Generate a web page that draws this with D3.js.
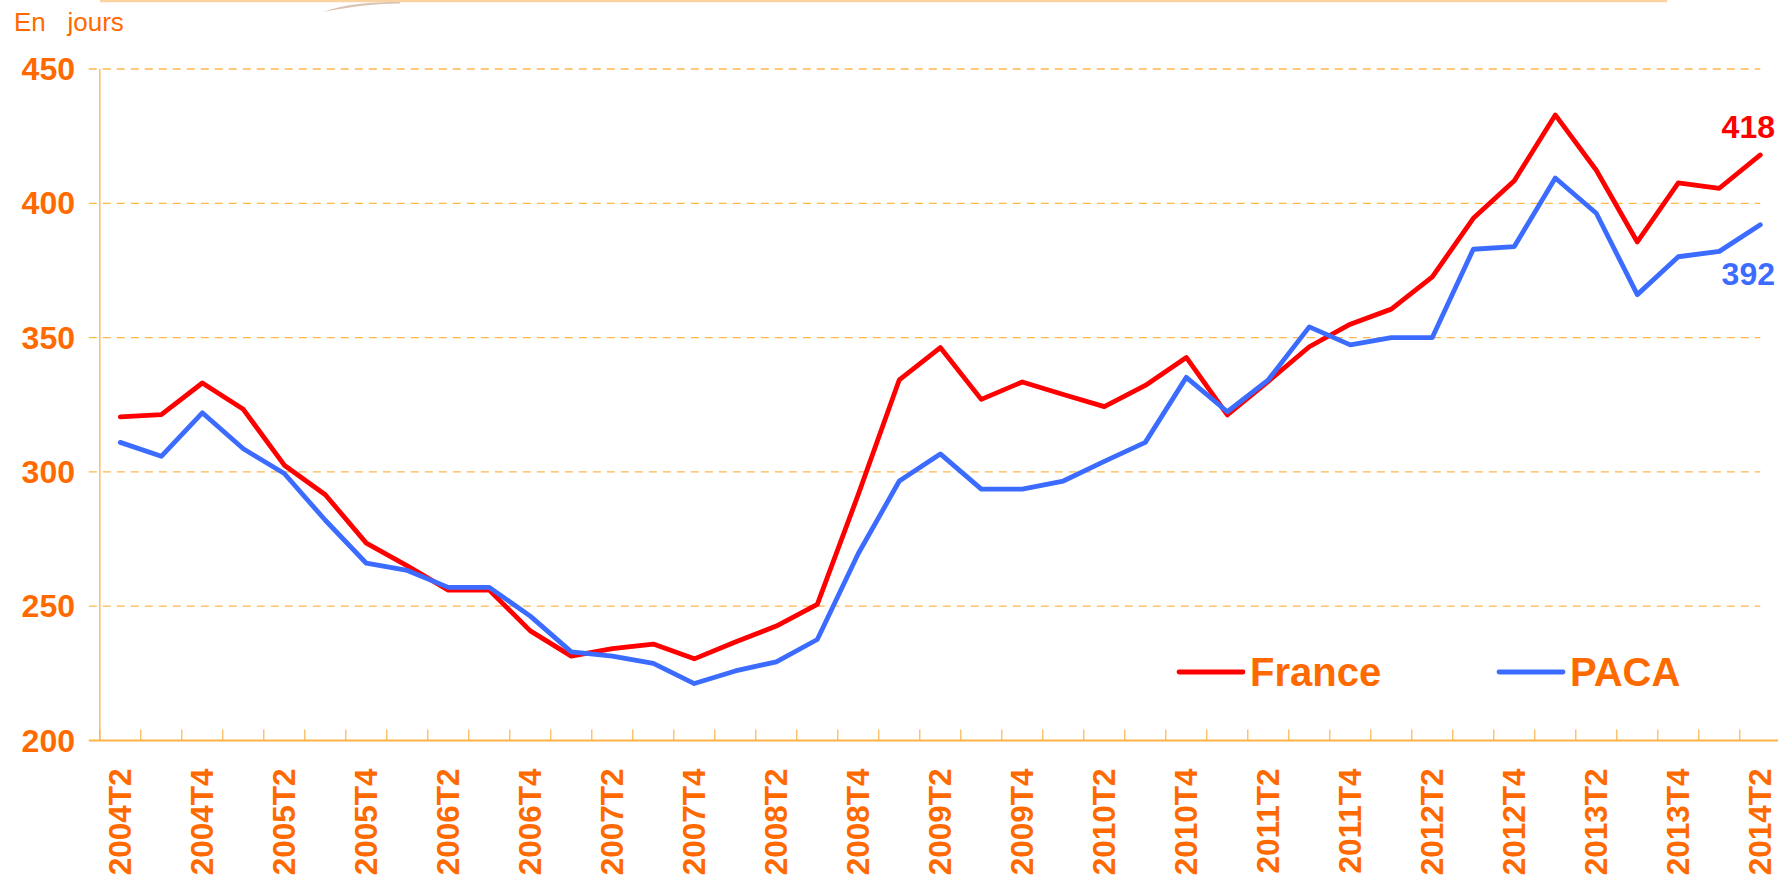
<!DOCTYPE html>
<html>
<head>
<meta charset="utf-8">
<script src="https://cdn.jsdelivr.net/npm/d3@7"></script>
<style>
  body { margin: 0; background: #fff; }
  svg { display: block; font-family: "Liberation Sans", Arial, sans-serif; }
</style>
</head>
<body>
<svg id="chart"></svg>
<script>
// quarters (2004T2 .. 2014T2)
let quarters = ["2004T2","2004T3","2004T4","2005T1","2005T2","2005T3","2005T4","2006T1","2006T2","2006T3",
  "2006T4","2007T1","2007T2","2007T3","2007T4","2008T1","2008T2","2008T3","2008T4","2009T1",
  "2009T2","2009T3","2009T4","2010T1","2010T2","2010T3","2010T4","2011T1","2011T2","2011T3",
  "2011T4","2012T1","2012T2","2012T3","2012T4","2013T1","2013T2","2013T3","2013T4","2014T1","2014T2"];

let france = [320.5, 321.3, 333.1, 323.3, 302.5, 291.5, 273.5, 265, 256, 256,
  240.8, 231.4, 234.2, 235.9, 230.4, 236.7, 242.6, 250.7, 291.6, 334.3,
  346.3, 327, 333.5, 328.8, 324.3, 332.2, 342.6, 321.2, 333.7, 346.6,
  355, 360.6, 372.6, 394.4, 408.4, 432.9, 412.3, 385.6, 407.6, 405.6, 418];

let paca = [311, 305.8, 322, 308.6, 299.4, 282, 266, 263.3, 257, 257,
  246.3, 233, 231.4, 228.7, 221.2, 225.9, 229.3, 237.6, 269.6, 296.6,
  306.7, 293.6, 293.6, 296.6, 303.9, 311, 335.2, 322.4, 334.3, 354,
  347.3, 350, 350, 382.9, 383.9, 409.4, 396.3, 366, 380.1, 382.1, 392];

let yTicks = [200, 250, 300, 350, 400, 450];

let W = 1778, H = 877;
let orange = "#ff6a00";
let axisCol = "#ffb347";

let svg = d3.select("#chart").attr("width", W).attr("height", H);

let left = 99.8, step = 41;
let x = d3.scaleBand()
    .domain(quarters)
    .range([left, left + step * quarters.length])
    .padding(0);

let y = d3.scaleLinear()
    .domain([200, 450])
    .range([740.5, 69]);

let cx = function(q) { return x(q) + x.bandwidth() / 2; };

// faint decoration at the top
svg.append("line")
    .attr("x1", 100).attr("x2", 1667)
    .attr("y1", 1).attr("y2", 1)
    .style("stroke", "#fbd3a0")
    .style("stroke-width", 2.5);
svg.append("path")
    .attr("d", "M323,12 C345,4 370,2 400,2 L400,3.5 C372,4 348,7 323,12 Z")
    .style("fill", "#d9c3b3");

// gridlines
svg.append("g")
    .selectAll("line")
    .data(yTicks.filter(function(d) { return d > 200; }))
    .join("line")
    .attr("x1", left - 11)
    .attr("x2", cx(quarters[quarters.length - 1]))
    .attr("y1", function(d) { return y(d); })
    .attr("y2", function(d) { return y(d); })
    .style("stroke", "#ffb84d")
    .style("stroke-width", 1.3)
    .style("stroke-dasharray", "8,6");

// y axis line
svg.append("line")
    .attr("x1", left).attr("x2", left)
    .attr("y1", y(450)).attr("y2", y(200))
    .style("stroke", axisCol)
    .style("stroke-width", 1.3);

// x axis line
svg.append("line")
    .attr("x1", left - 11).attr("x2", W)
    .attr("y1", y(200)).attr("y2", y(200))
    .style("stroke", axisCol)
    .style("stroke-width", 2);

// tick marks between quarters
svg.append("g")
    .selectAll("line")
    .data(quarters)
    .join("line")
    .attr("x1", function(d) { return x(d); })
    .attr("x2", function(d) { return x(d); })
    .attr("y1", y(200))
    .attr("y2", y(200) - 11)
    .style("stroke", axisCol)
    .style("stroke-width", 1.2);

// y labels
svg.append("g")
    .selectAll("text")
    .data(yTicks)
    .join("text")
    .attr("x", 75)
    .attr("y", function(d) { return y(d) + 11; })
    .attr("text-anchor", "end")
    .style("font-size", "32px")
    .style("font-weight", "bold")
    .style("fill", orange)
    .text(function(d) { return d; });

// x labels, every second quarter
svg.append("g")
    .selectAll("text")
    .data(quarters.filter(function(d, i) { return i % 2 === 0; }))
    .join("text")
    .attr("transform", function(d) { return `translate(${cx(d) + 11}, ${y(200) + 28}) rotate(-90)`; })
    .attr("text-anchor", "end")
    .style("font-size", "31.5px")
    .style("font-weight", "bold")
    .style("fill", orange)
    .text(function(d) { return d; });

// unit
svg.append("text")
    .attr("x", 14)
    .attr("y", 31)
    .style("font-size", "26px")
    .style("fill", orange)
    .style("white-space", "pre")
    .text("En   jours");

let line = d3.line()
    .x(function(d, i) { return cx(quarters[i]); })
    .y(function(d) { return y(d); });

let series = [
    {name: "France", values: france, color: "#ff0000"},
    {name: "PACA", values: paca, color: "#3c6cff"}
];

svg.append("g")
    .selectAll("path")
    .data(series)
    .join("path")
    .attr("d", function(d) { return line(d.values); })
    .style("fill", "none")
    .style("stroke", function(d) { return d.color; })
    .style("stroke-width", 4.8)
    .style("stroke-linejoin", "round")
    .style("stroke-linecap", "round");

// end values
svg.append("text")
    .attr("x", 1775)
    .attr("y", 138)
    .attr("text-anchor", "end")
    .style("font-size", "32px")
    .style("font-weight", "bold")
    .style("fill", "#ff0000")
    .text(d3.format("d")(france[france.length - 1]));
svg.append("text")
    .attr("x", 1775)
    .attr("y", 285)
    .attr("text-anchor", "end")
    .style("font-size", "32px")
    .style("font-weight", "bold")
    .style("fill", "#3c6cff")
    .text(d3.format("d")(paca[paca.length - 1]));

// legend
let legendX = [1179, 1499];
let legend = svg.append("g")
    .selectAll("g")
    .data(series)
    .join("g")
    .attr("transform", function(d, i) { return `translate(${legendX[i]}, 672)`; });

legend.append("line")
    .attr("x1", 0).attr("x2", 64)
    .attr("y1", 0).attr("y2", 0)
    .style("stroke", function(d) { return d.color; })
    .style("stroke-width", 4.8)
    .style("stroke-linecap", "round");

legend.append("text")
    .attr("x", 71)
    .attr("y", 14)
    .style("font-size", "40px")
    .style("font-weight", "bold")
    .style("fill", orange)
    .text(function(d) { return d.name; });
</script>
</body>
</html>
